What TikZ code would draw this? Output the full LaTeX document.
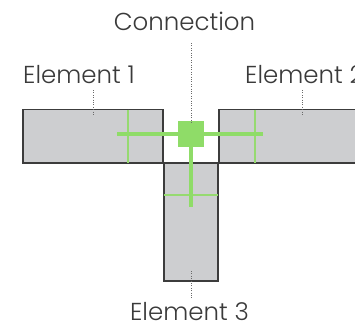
\documentclass[tikz,border=0pt]{standalone}
\usepackage{fontspec}
\IfFontExistsTF{Poppins Light}{\setmainfont{Poppins Light}}{\setmainfont{Poppins}}
\begin{document}
\begin{tikzpicture}[x=1pt,y=-1pt,
  elem/.style={draw=edgegray,fill=fillgray,line width=1.3pt,inner sep=0pt,outer sep=0pt},
  thin green/.style={draw=lightgreen,line width=1.1pt},
  thick green/.style={draw=greenc,line width=4pt},
  dots/.style={draw=dotgray,line width=1pt,dash pattern=on 1pt off 1.4pt},
  lbl/.style={text=txtgray,font=\fontsize{24.5}{25}\selectfont,inner sep=0pt}]
\definecolor{edgegray}{HTML}{3C3C3C}
\definecolor{fillgray}{HTML}{CDCED0}
\definecolor{greenc}{HTML}{8FDC68}
\definecolor{lightgreen}{HTML}{96DA70}
\definecolor{dotgray}{HTML}{6A6A6A}
\definecolor{txtgray}{HTML}{3A3A3A}
\useasboundingbox (0,0) rectangle (355,324);
\clip (0,0) rectangle (355,324);
% elements
\node[elem,minimum width=140pt,minimum height=53.5pt] (e1) at (93,136.25) {};
\node[elem,minimum width=156pt,minimum height=53.5pt] (e2) at (297,136.25) {};
\node[elem,minimum width=54pt,minimum height=118pt] (e3) at (191,222) {};
% thin green lines
\coordinate (t1a) at (128,109.5); \coordinate (t1b) at (128,163);
\coordinate (t2a) at (255,109.5); \coordinate (t2b) at (255,163);
\coordinate (t3a) at (164,195); \coordinate (t3b) at (218,195);
\draw[thin green] (t1a) -- (t1b);
\draw[thin green] (t2a) -- (t2b);
\draw[thin green] (t3a) -- (t3b);
% connection
\node[fill=greenc,minimum size=26pt,inner sep=0pt] (c) at (191,134) {};
\coordinate (hl) at (117,134);
\coordinate (hr) at (263,134);
\coordinate (vb) at (191,207);
\draw[thick green] (hl) -- (c.west);
\draw[thick green] (c.east) -- (hr);
\draw[thick green] (c.south) -- (vb);
% labels
\node[lbl,anchor=base] (lc) at (184.5,30.5) {Connection};
\node[lbl,anchor=base west] (l1) at (23,83) {Element 1};
\node[lbl,anchor=base west] (l2) at (245,83) {Element 2};
\node[lbl,anchor=base] (l3) at (189.5,320.5) {Element 3};
% dotted leaders
\coordinate (d1a) at (93,90); \coordinate (d1b) at (93,115);
\coordinate (d2a) at (302,90); \coordinate (d2b) at (302,116);
\coordinate (dca) at (191,43); \coordinate (dcb) at (191,123);
\coordinate (d3a) at (191,271); \coordinate (d3b) at (191,298);
\draw[dots] (d1a) -- (d1b);
\draw[dots] (d2a) -- (d2b);
\draw[dots] (dca) -- (dcb);
\draw[dots] (d3a) -- (d3b);
\end{tikzpicture}
\end{document}
